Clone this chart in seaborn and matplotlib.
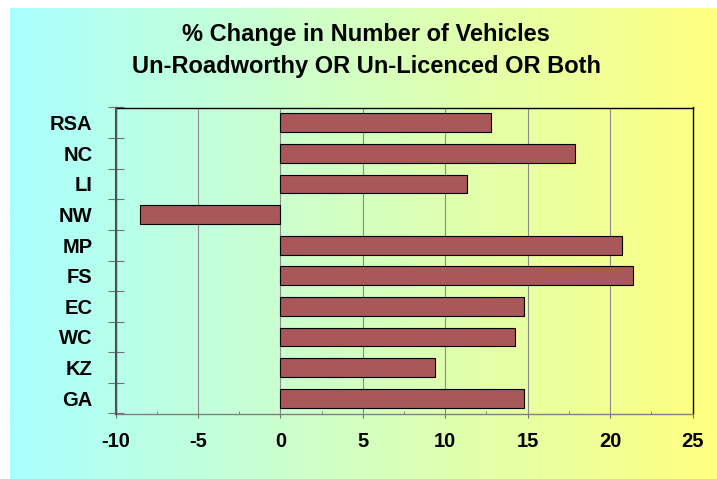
import numpy as np
import pandas as pd
import seaborn as sns
import matplotlib.pyplot as plt

# data
regions = ["RSA", "NC", "LI", "NW", "MP", "FS", "EC", "WC", "KZ", "GA"]
pct_change = [12.8, 17.9, 11.3, -8.5, 20.75, 21.4, 14.8, 14.25, 9.4, 14.75]
x_ticks = [-10, -5, 0, 5, 10, 15, 20, 25]
title_lines = ["% Change in Number of Vehicles",
               "Un-Roadworthy OR Un-Licenced OR Both"]

df = pd.DataFrame({"Region": regions, "Change": pct_change})

plt.rcParams['font.family'] = ['Liberation Sans', 'DejaVu Sans']
plt.rcParams['font.weight'] = 'bold'

W, H = 717, 479
fig = plt.figure(figsize=(W / 100, H / 100), dpi=100)
fig.patch.set_facecolor("white")

# gradient background (cyan -> light green -> yellow)
bg = fig.add_axes([10 / W, 0, (W - 10) / W, (H - 8) / H])
left_c = np.array([170, 255, 255]) / 255
right_c = np.array([255, 255, 128]) / 255
t = np.linspace(0, 1, 256)[None, :, None]
grad = left_c * (1 - t) + right_c * t
bg.imshow(grad, aspect="auto", extent=[0, 1, 0, 1])
bg.axis("off")

# main plot area
ax = fig.add_axes([115.5 / W, 1 - 413.5 / H, 577 / W, 306 / H])
ax.patch.set_alpha(0)

sns.barplot(data=df, x="Change", y="Region", order=regions, orient="h",
            color="#A85858", edgecolor="black", linewidth=0.8, width=0.62,
            saturation=1, ax=ax)

ax.set_xlim(-10, 25)
ax.set_ylim(9.5, -0.5)
ax.set_xlabel("")
ax.set_ylabel("")

# x ticks: major outside, minor inside
ax.set_xticks(x_ticks)
ax.set_xticklabels([str(v) for v in x_ticks], fontsize=14.5, fontweight="bold")
ax.set_xticks(np.arange(-7.5, 25, 5), minor=True)
ax.tick_params(axis="x", which="major", direction="out", length=3,
               color="#707070", pad=10)
ax.tick_params(axis="x", which="minor", direction="in", length=2.2,
               color="#707070")

# y ticks: labels at centres, marks at category boundaries
ax.set_yticks(range(len(regions)))
ax.set_yticklabels(regions, fontsize=14.5, fontweight="bold")
ax.set_yticks(np.arange(-0.5, len(regions), 1), minor=True)
ax.tick_params(axis="y", which="major", length=0, pad=16.5)
ax.tick_params(axis="y", which="minor", direction="inout", length=12,
               color="#707070", width=0.8)

# vertical gridlines (only inside the frame)
for v in x_ticks[1:-1]:
    ax.axvline(v, color="#8a8a8a", linewidth=0.8, zorder=0)
ax.grid(False)

for name, col in [("top", "black"), ("right", "black"),
                  ("left", "#505050"), ("bottom", "#808080")]:
    ax.spines[name].set_visible(True)
    ax.spines[name].set_color(col)
    ax.spines[name].set_linewidth(1)
    ax.spines[name].set_zorder(5)

# left axis line drawn explicitly as well
ax.axvline(x_ticks[0], color="#505050", linewidth=1.5, zorder=6, clip_on=False)

# two-line title
fig.text(366 / W, 1 - 34 / H, title_lines[0], ha="center", va="center",
         fontsize=17, fontweight="bold")
fig.text(366 / W, 1 - 66 / H, title_lines[1], ha="center", va="center",
         fontsize=17, fontweight="bold")

fig.savefig("out.png", dpi=100)
